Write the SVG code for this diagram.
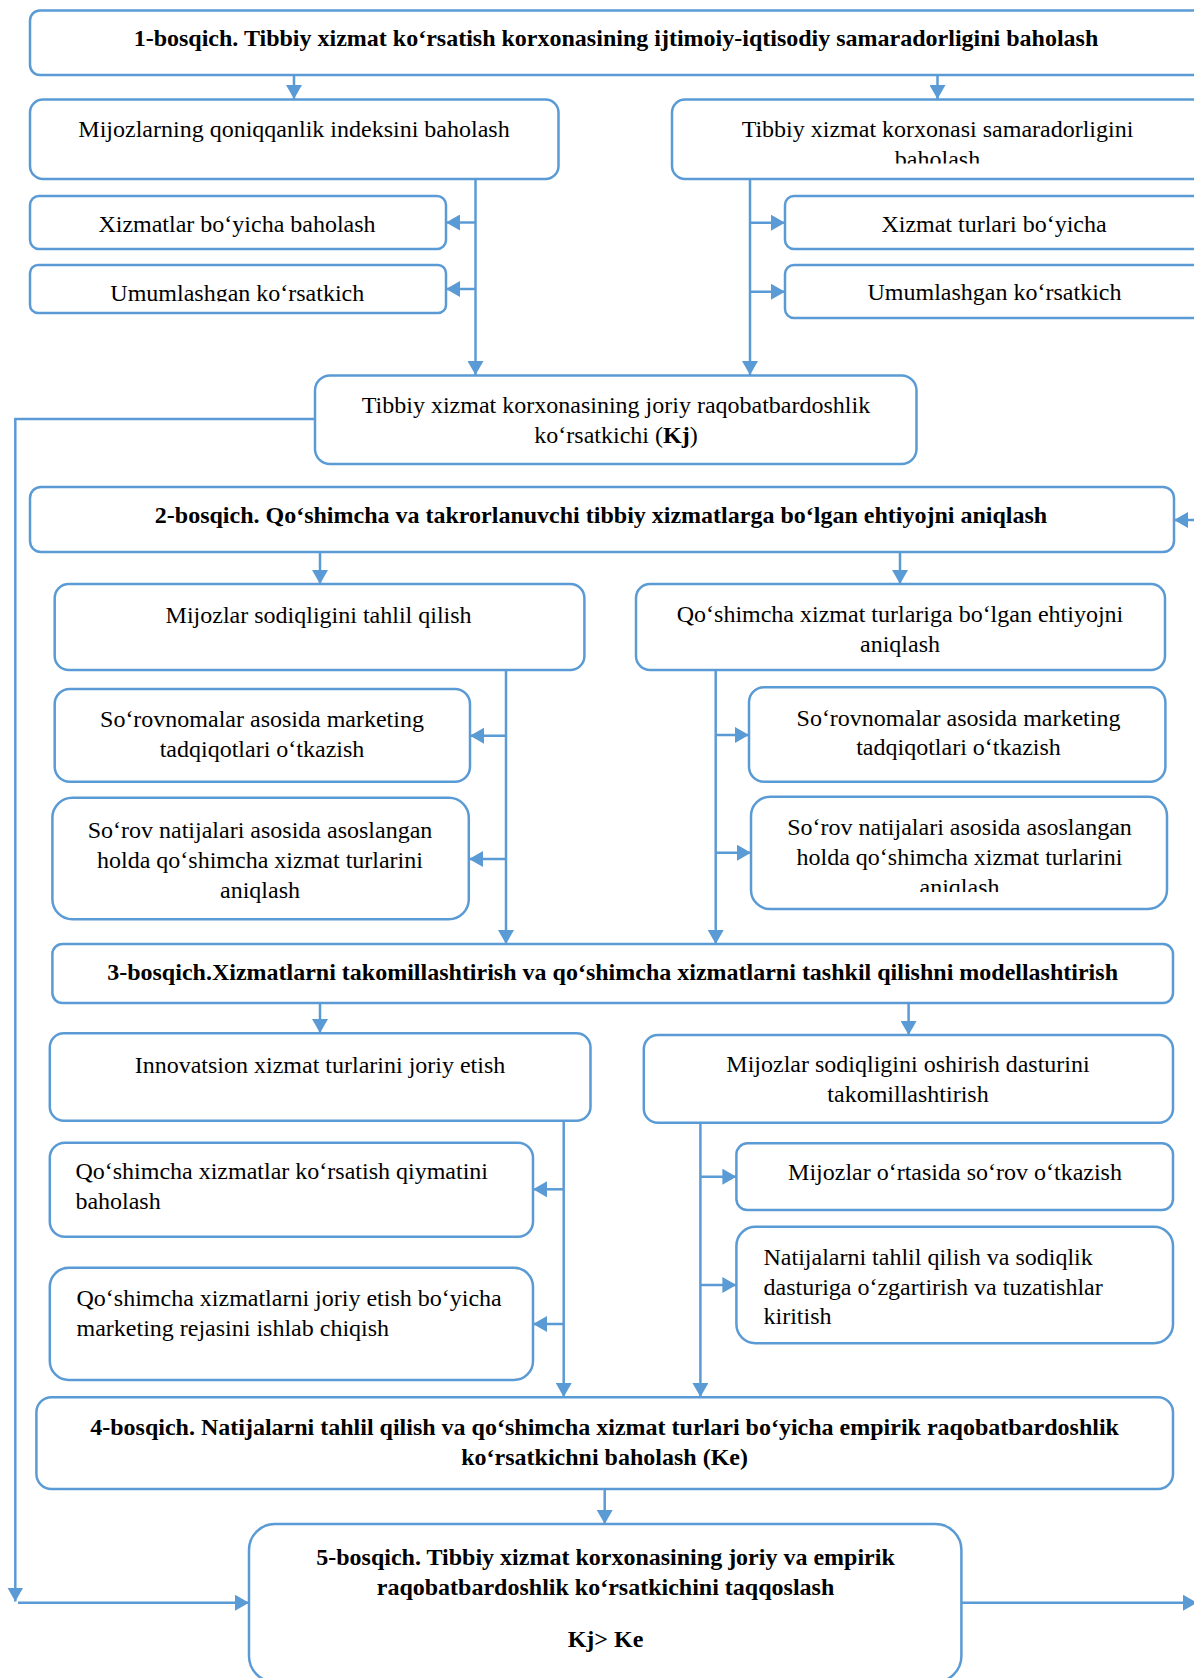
<svg xmlns="http://www.w3.org/2000/svg" width="1194" height="1678" viewBox="0 0 1194 1678">
<style>
.b{fill:#fff;stroke:#5B9BD5;stroke-width:2.5}
.t{font-family:"Liberation Serif","Times New Roman",serif;font-size:24px;fill:#000}
.c{text-anchor:middle}
.bd{font-weight:bold}
.ln{fill:none;stroke:#5B9BD5;stroke-width:2.5}
</style>
<defs>
<marker id="ah" markerUnits="userSpaceOnUse" markerWidth="15" markerHeight="16" refX="14" refY="8" orient="auto">
<path d="M0,0 L14,8 L0,16 z" fill="#5B9BD5"/>
</marker>
<clipPath id="cp3"><rect x="672" y="99" width="540" height="64.5"/></clipPath>
<clipPath id="cp5"><rect x="30" y="265" width="416" height="36.5"/></clipPath>
<clipPath id="cp15"><rect x="751" y="796" width="416" height="96"/></clipPath>
</defs>
<rect width="1194" height="1678" fill="#fff"/>
<g id="connectors">
<path class="ln" marker-end="url(#ah)" d="M294,75 V99"/>
<path class="ln" marker-end="url(#ah)" d="M937.5,75 V99"/>
<path class="ln" marker-end="url(#ah)" d="M475.5,179 V375"/>
<path class="ln" marker-end="url(#ah)" d="M475.5,222.5 H446"/>
<path class="ln" marker-end="url(#ah)" d="M475.5,289 H446"/>
<path class="ln" marker-end="url(#ah)" d="M750,179 V375"/>
<path class="ln" marker-end="url(#ah)" d="M750,222.7 H785"/>
<path class="ln" marker-end="url(#ah)" d="M750,291.7 H785"/>
<path class="ln" marker-end="url(#ah)" d="M315,419 H15.3 V1601.5"/>
<path class="ln" marker-end="url(#ah)" d="M18,1602.7 H249"/>
<path class="ln" marker-end="url(#ah)" d="M1200,520 H1174"/>
<path class="ln" marker-end="url(#ah)" d="M320,552 V584"/>
<path class="ln" marker-end="url(#ah)" d="M900,552 V584"/>
<path class="ln" marker-end="url(#ah)" d="M506,670 V944"/>
<path class="ln" marker-end="url(#ah)" d="M506,735.7 H470"/>
<path class="ln" marker-end="url(#ah)" d="M506,859 H469"/>
<path class="ln" marker-end="url(#ah)" d="M715.7,670 V944"/>
<path class="ln" marker-end="url(#ah)" d="M715.7,735 H749"/>
<path class="ln" marker-end="url(#ah)" d="M715.7,852.7 H751"/>
<path class="ln" marker-end="url(#ah)" d="M320,1003 V1033"/>
<path class="ln" marker-end="url(#ah)" d="M908.6,1003 V1035"/>
<path class="ln" marker-end="url(#ah)" d="M563.7,1121 V1397"/>
<path class="ln" marker-end="url(#ah)" d="M563.7,1189.3 H533"/>
<path class="ln" marker-end="url(#ah)" d="M563.7,1324 H533"/>
<path class="ln" marker-end="url(#ah)" d="M700.4,1123 V1397"/>
<path class="ln" marker-end="url(#ah)" d="M700.4,1176.7 H736.4"/>
<path class="ln" marker-end="url(#ah)" d="M700.4,1285 H736.4"/>
<path class="ln" marker-end="url(#ah)" d="M604.7,1489 V1524"/>
<path class="ln" marker-end="url(#ah)" d="M961.4,1602.7 H1197"/>
</g>
<g id="n1"><rect class="b" x="30" y="10.5" width="1180" height="64.5" rx="10"/>
<text class="t c bd" x="616" y="46">1-bosqich. Tibbiy xizmat ko‘rsatish korxonasining ijtimoiy-iqtisodiy samaradorligini baholash</text></g>
<g id="n2"><rect class="b" x="30" y="99.5" width="528.5" height="79.5" rx="13"/>
<text class="t c" x="294" y="137">Mijozlarning qoniqqanlik indeksini baholash</text></g>
<g id="n3"><rect class="b" x="672" y="99.5" width="540" height="79.5" rx="13"/>
<text class="t c" x="937.5" y="137" clip-path="url(#cp3)">Tibbiy xizmat korxonasi samaradorligini<tspan x="937.5" y="167">baholash</tspan></text></g>
<g id="n4"><rect class="b" x="30" y="196" width="416" height="53" rx="9"/>
<text class="t c" x="237" y="231.5">Xizmatlar bo‘yicha baholash</text></g>
<g id="n5"><rect class="b" x="30" y="265" width="416" height="48" rx="8"/>
<text class="t c" x="237.3" y="300.5" clip-path="url(#cp5)">Umumlashgan ko‘rsatkich</text></g>
<g id="n6"><rect class="b" x="785" y="196" width="430" height="53" rx="9"/>
<text class="t c" x="994" y="232">Xizmat turlari bo‘yicha</text></g>
<g id="n7"><rect class="b" x="785" y="265" width="430" height="53" rx="9"/>
<text class="t c" x="994.5" y="300">Umumlashgan ko‘rsatkich</text></g>
<g id="n8"><rect class="b" x="315" y="375.5" width="601.5" height="88.5" rx="15"/>
<text class="t c" x="616" y="413">Tibbiy xizmat korxonasining joriy raqobatbardoshlik<tspan x="616" y="443">ko‘rsatkichi (<tspan class="bd">Kj</tspan>)</tspan></text></g>
<g id="n9"><rect class="b" x="30" y="487" width="1144" height="65" rx="11"/>
<text class="t c bd" x="601" y="523">2-bosqich. Qo‘shimcha va takrorlanuvchi tibbiy xizmatlarga bo‘lgan ehtiyojni aniqlash</text></g>
<g id="n10"><rect class="b" x="54.7" y="584" width="529.7" height="86" rx="14"/>
<text class="t c" x="318.6" y="623">Mijozlar sodiqligini tahlil qilish</text></g>
<g id="n11"><rect class="b" x="636" y="584" width="529" height="86" rx="14"/>
<text class="t c" x="900" y="621.7">Qo‘shimcha xizmat turlariga bo‘lgan ehtiyojni<tspan x="900" y="651.7">aniqlash</tspan></text></g>
<g id="n12"><rect class="b" x="54.7" y="689" width="415.3" height="92.7" rx="15"/>
<text class="t c" x="262" y="727.3">So‘rovnomalar asosida marketing<tspan x="262" y="757.3">tadqiqotlari o‘tkazish</tspan></text></g>
<g id="n13"><rect class="b" x="52.4" y="797.7" width="416.4" height="121.6" rx="20"/>
<text class="t c" x="260" y="837.7">So‘rov natijalari asosida asoslangan<tspan x="260" y="867.7">holda qo‘shimcha xizmat turlarini</tspan><tspan x="260" y="897.7">aniqlash</tspan></text></g>
<g id="n14"><rect class="b" x="749" y="687.3" width="416.4" height="94.4" rx="15"/>
<text class="t c" x="958.5" y="726">So‘rovnomalar asosida marketing<tspan x="958.5" y="755">tadqiqotlari o‘tkazish</tspan></text></g>
<g id="n15"><rect class="b" x="751" y="796.7" width="416" height="112.3" rx="19"/>
<text class="t c" x="959.5" y="835" clip-path="url(#cp15)">So‘rov natijalari asosida asoslangan<tspan x="959.5" y="865">holda qo‘shimcha xizmat turlarini</tspan><tspan x="959.5" y="895">aniqlash</tspan></text></g>
<g id="n16"><rect class="b" x="52.4" y="944" width="1120.6" height="59" rx="10"/>
<text class="t c bd" x="612.6" y="980">3-bosqich.Xizmatlarni takomillashtirish va qo‘shimcha xizmatlarni tashkil qilishni modellashtirish</text></g>
<g id="n17"><rect class="b" x="49.8" y="1033.3" width="540.7" height="87.4" rx="14"/>
<text class="t c" x="320" y="1073.3">Innovatsion xizmat turlarini joriy etish</text></g>
<g id="n18"><rect class="b" x="643.8" y="1035" width="529.2" height="87.7" rx="14"/>
<text class="t c" x="908" y="1071.7">Mijozlar sodiqligini oshirish dasturini<tspan x="908" y="1101.7">takomillashtirish</tspan></text></g>
<g id="n19"><rect class="b" x="49.8" y="1142.7" width="483.2" height="94" rx="15"/>
<text class="t" x="75.4" y="1179.3">Qo‘shimcha xizmatlar ko‘rsatish qiymatini<tspan x="75.4" y="1209.3">baholash</tspan></text></g>
<g id="n20"><rect class="b" x="49.8" y="1267.7" width="483.2" height="112.3" rx="19"/>
<text class="t" x="76.5" y="1306">Qo‘shimcha xizmatlarni joriy etish bo‘yicha<tspan x="76.5" y="1336">marketing rejasini ishlab chiqish</tspan></text></g>
<g id="n21"><rect class="b" x="736.4" y="1143.3" width="436.6" height="66.7" rx="11"/>
<text class="t c" x="955" y="1180">Mijozlar o‘rtasida so‘rov o‘tkazish</text></g>
<g id="n22"><rect class="b" x="736.4" y="1226.7" width="436.6" height="116.6" rx="19"/>
<text class="t" x="763.5" y="1265">Natijalarni tahlil qilish va sodiqlik<tspan x="763.5" y="1295">dasturiga o‘zgartirish va tuzatishlar</tspan><tspan x="763.5" y="1324">kiritish</tspan></text></g>
<g id="n23"><rect class="b" x="36.4" y="1397.3" width="1136.6" height="91.7" rx="15"/>
<text class="t c bd" x="604.6" y="1435">4-bosqich. Natijalarni tahlil qilish va qo‘shimcha xizmat turlari bo‘yicha empirik raqobatbardoshlik<tspan x="604.6" y="1465">ko‘rsatkichni baholash (Ke)</tspan></text></g>
<g id="n24"><rect class="b" x="249" y="1524" width="712.4" height="158" rx="26"/>
<text class="t c bd" x="605.5" y="1565">5-bosqich. Tibbiy xizmat korxonasining joriy va empirik<tspan x="605.5" y="1595">raqobatbardoshlik ko‘rsatkichini taqqoslash</tspan><tspan x="605.5" y="1647">Kj&gt; Ke</tspan></text></g>
</svg>
